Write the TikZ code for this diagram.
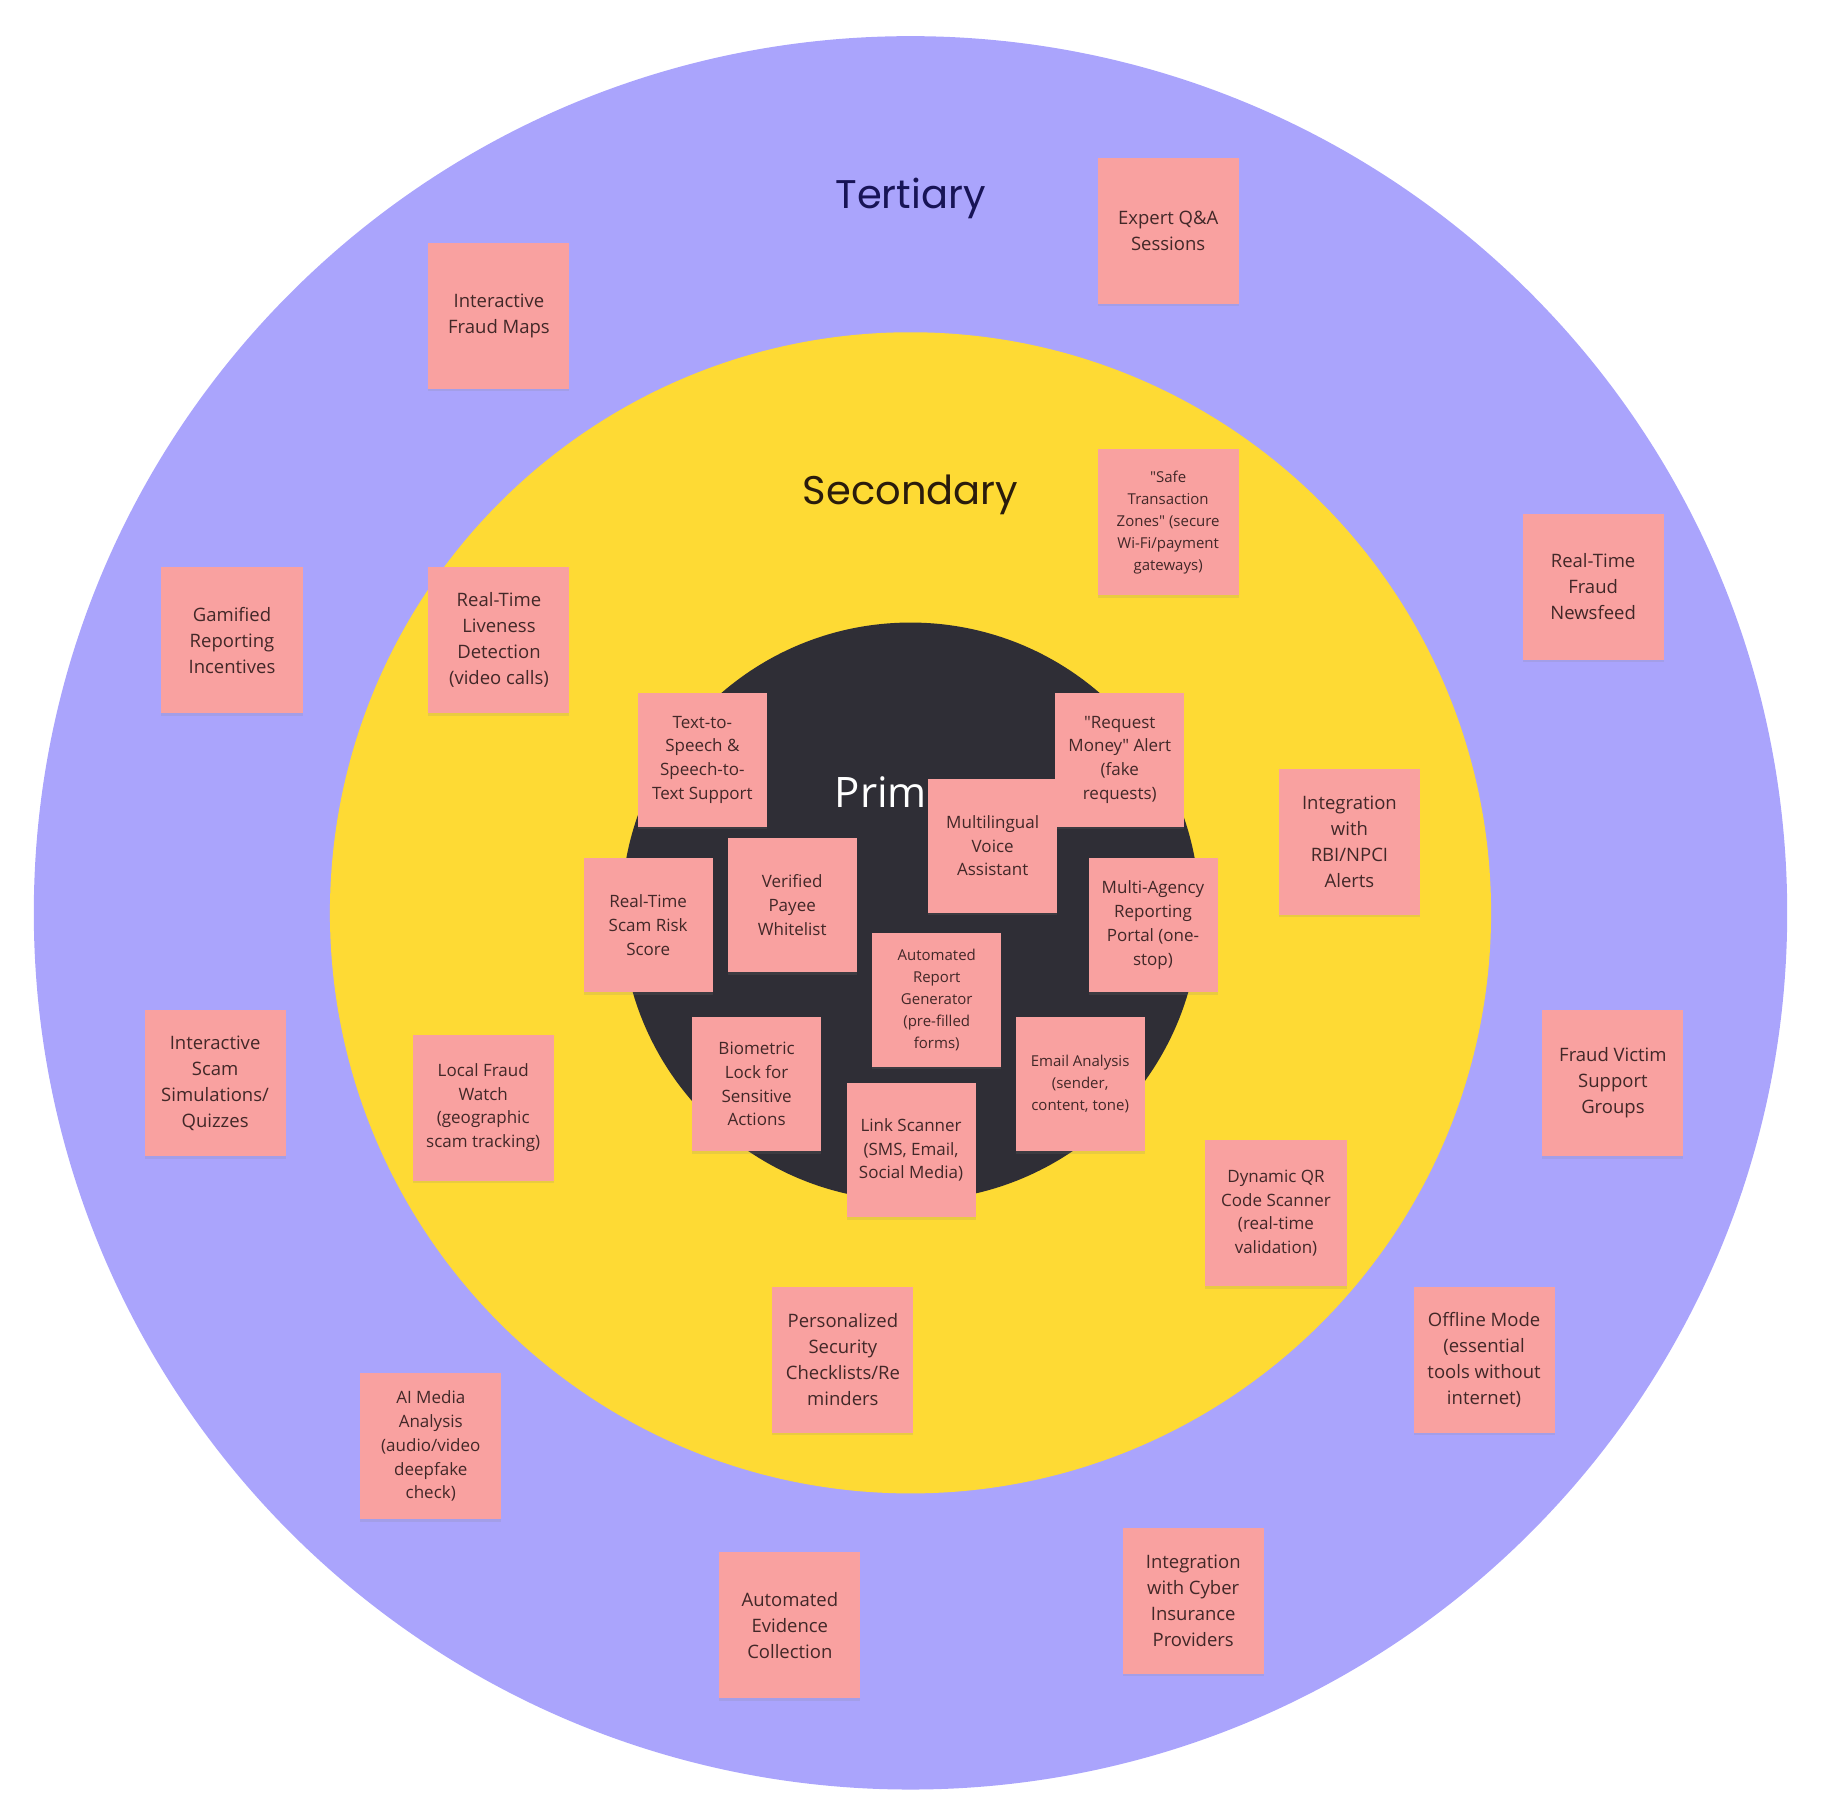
\documentclass[tikz,border=0pt]{standalone}
\usepackage{fontspec}
\setmainfont{Open Sans}
\newfontfamily\ringfont{Poppins}
\usepackage{xcolor}
\usetikzlibrary{shadows}
\definecolor{tertiaryblue}{RGB}{170,164,252}
\definecolor{secondaryyellow}{RGB}{254,218,52}
\definecolor{primarydark}{RGB}{47,46,54}
\definecolor{notepink}{RGB}{249,161,160}
\definecolor{notetext}{RGB}{66,40,40}
\definecolor{tertiarytext}{RGB}{24,20,86}
\definecolor{secondarytext}{RGB}{42,28,12}
\tikzset{
  note/.style={fill=notepink,text=notetext,align=center,inner sep=0pt,
               minimum width=141pt,minimum height=146pt,
               font=\fontsize{18.5}{26}\selectfont,
               drop shadow={shadow xshift=0pt,shadow yshift=-2.5pt,opacity=.16}},
  corenote/.style={note,minimum width=129pt,minimum height=134pt,
               font=\fontsize{17}{23.7}\selectfont},
  tightnote/.style={font=\fontsize{17}{23.7}\selectfont},
  tinynote/.style={font=\fontsize{15}{22}\selectfont},
  ringlabel/.style={font=\ringfont\fontsize{40}{48}\selectfont,inner sep=0pt}
}

\begin{document}
\begin{tikzpicture}[x=1.1658pt,y=-1.1658pt]
  \useasboundingbox (0,0) rectangle (1568,1558);
  % The three rings, outermost first.
  \fill[tertiaryblue] (781,783) circle[radius=752];
  \fill[secondaryyellow] (781,783) circle[radius=498];
  \fill[primarydark] (781,782) circle[radius=248];

  \node[ringlabel,text=tertiarytext,anchor=base] (tertlabel) at (781,179) {Tertiary};
  \node[ringlabel,text=secondarytext,anchor=base] (seclabel) at (781,433) {Secondary};
  \node[font=\fontsize{42}{48}\selectfont,text=white,inner sep=0pt,anchor=base west]
    (primlabel) at (716,693) {Primary};

  % Tertiary ring.
  \node[note] (fraudmaps) at (428,271) {Interactive\\Fraud Maps};
  \node[note] (expertqa) at (1002,198) {Expert Q\&A\\Sessions};
  \node[note] (gamified) at (199,549) {Gamified\\Reporting\\Incentives};
  \node[note] (newsfeed) at (1366.5,503.5) {Real-Time\\Fraud\\Newsfeed};
  \node[note] (simulations) at (184.5,929) {Interactive\\Scam\\Simulations/\\Quizzes};
  \node[note] (victimsupport) at (1383.5,929) {Fraud Victim\\Support\\Groups};
  \node[note,tightnote] (aimedia) at (369.5,1240.5)
    {AI Media\\Analysis\\(audio/video\\deepfake\\check)};
  \node[note] (offline) at (1273,1166.5) {Offline Mode\\(essential\\tools without\\internet)};
  \node[note] (evidence) at (677.5,1394) {Automated\\Evidence\\Collection};
  \node[note] (insurance) at (1023.5,1373) {Integration\\with Cyber\\Insurance\\Providers};

  % Secondary ring.
  \node[note,tinynote] (safezones) at (1002,448)
    {\textquotedbl Safe\\Transaction\\Zones\textquotedbl{} (secure\\Wi-Fi/payment\\gateways)};
  \node[note] (liveness) at (428,549) {Real-Time\\Liveness\\Detection\\(video calls)};
  \node[note] (rbialerts) at (1157.5,722) {Integration\\with\\RBI/NPCI\\Alerts};
  \node[note,tightnote] (fraudwatch) at (414.5,950)
    {Local Fraud\\Watch\\(geographic\\scam tracking)};
  \node[note,tightnote] (qrscanner) at (1094.5,1040.5)
    {Dynamic QR\\Code Scanner\\(real-time\\validation)};
  \node[note] (checklists) at (723,1166.5) {Personalized\\Security\\Checklists/Re\\minders};

  % Primary core.
  \node[corenote] (tts) at (602.5,651.5) {Text-to-\\Speech \&\\Speech-to-\\Text Support};
  \node[corenote] (requestalert) at (960.5,651.5)
    {\textquotedbl Request\\Money\textquotedbl{} Alert\\(fake\\requests)};
  \node[corenote] (voiceassist) at (851.5,725.5) {Multilingual\\Voice\\Assistant};
  \node[corenote] (whitelist) at (679.5,776.5) {Verified\\Payee\\Whitelist};
  \node[corenote] (riskscore) at (556,793.5) {Real-Time\\Scam Risk\\Score};
  \node[corenote] (multiagency) at (989,793.5) {Multi-Agency\\Reporting\\Portal (one-\\stop)};
  \node[corenote,tinynote] (reportgen) at (803.5,857.5)
    {Automated\\Report\\Generator\\(pre-filled\\forms)};
  \node[corenote] (biolock) at (649,930) {Biometric\\Lock for\\Sensitive\\Actions};
  \node[corenote,tinynote] (emailanalysis) at (926.5,930)
    {Email Analysis\\(sender,\\content, tone)};
  \node[corenote] (linkscanner) at (781.5,986.5) {Link Scanner\\(SMS, Email,\\Social Media)};
\end{tikzpicture}
\end{document}
